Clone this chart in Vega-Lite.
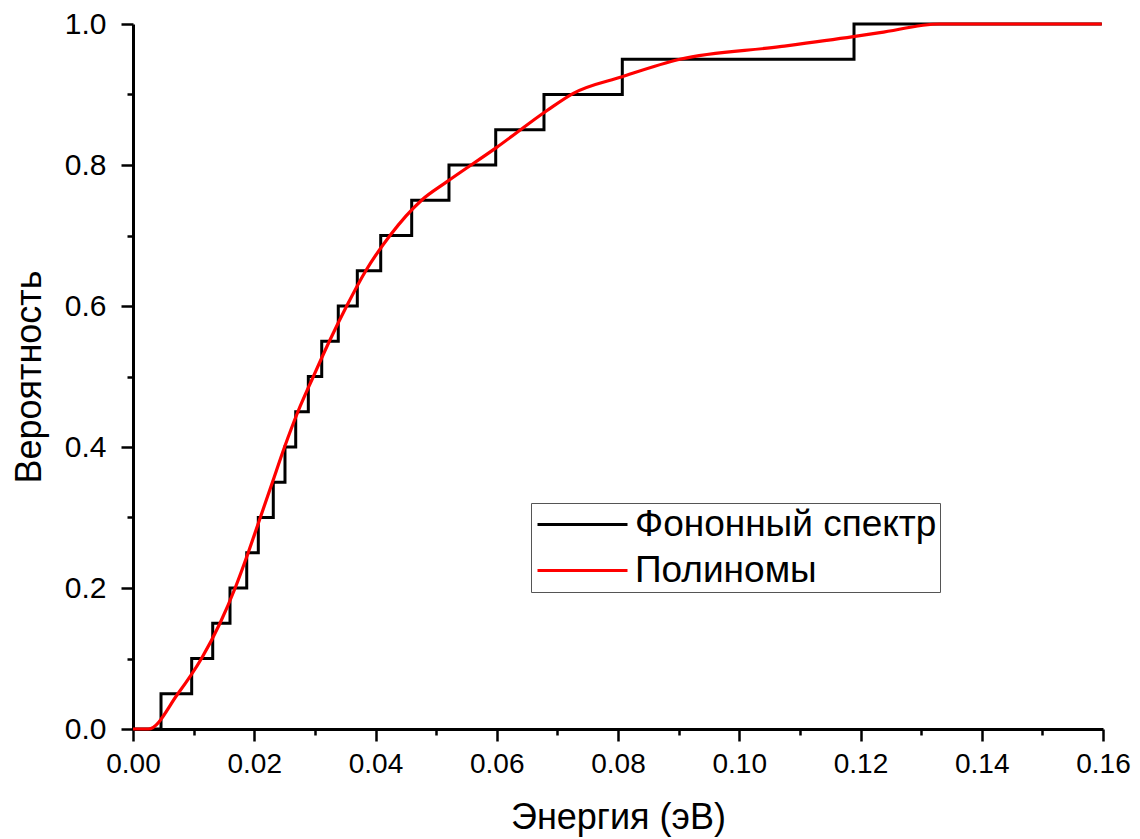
{
  "$schema": "https://vega.github.io/schema/vega-lite/v6.json",
  "width": 970,
  "height": 705,
  "autosize": "none",
  "padding": {"left": 133, "top": 24, "right": 37, "bottom": 110},
  "background": "white",
  "config": {
    "view": {"stroke": null},
    "font": "Liberation Sans"
  },
  "datasets": {
    "steps": [
      {"x": 0, "y": 0, "s": "Фононный спектр"},
      {"x": 0.00462, "y": 0.05, "s": "Фононный спектр"},
      {"x": 0.00968, "y": 0.10, "s": "Фононный спектр"},
      {"x": 0.01315, "y": 0.15, "s": "Фононный спектр"},
      {"x": 0.0160, "y": 0.20, "s": "Фононный спектр"},
      {"x": 0.01876, "y": 0.25, "s": "Фононный спектр"},
      {"x": 0.02067, "y": 0.30, "s": "Фононный спектр"},
      {"x": 0.02314, "y": 0.35, "s": "Фононный спектр"},
      {"x": 0.02507, "y": 0.40, "s": "Фононный спектр"},
      {"x": 0.02684, "y": 0.45, "s": "Фононный спектр"},
      {"x": 0.02892, "y": 0.50, "s": "Фононный спектр"},
      {"x": 0.03113, "y": 0.55, "s": "Фононный спектр"},
      {"x": 0.03386, "y": 0.60, "s": "Фононный спектр"},
      {"x": 0.03700, "y": 0.65, "s": "Фононный спектр"},
      {"x": 0.04086, "y": 0.70, "s": "Фононный спектр"},
      {"x": 0.04597, "y": 0.75, "s": "Фононный спектр"},
      {"x": 0.05212, "y": 0.80, "s": "Фононный спектр"},
      {"x": 0.05983, "y": 0.85, "s": "Фононный спектр"},
      {"x": 0.06779, "y": 0.90, "s": "Фононный спектр"},
      {"x": 0.08071, "y": 0.95, "s": "Фононный спектр"},
      {"x": 0.11893, "y": 1.00, "s": "Фононный спектр"},
      {"x": 0.1598, "y": 1.00, "s": "Фононный спектр"}
    ],
    "poly": [
      {"x": 0, "y": 0, "s": "Полиномы"},
      {"x": 0.00253, "y": 0, "s": "Полиномы"},
      {"x": 0.0074, "y": 0.05, "s": "Полиномы"},
      {"x": 0.0113, "y": 0.10, "s": "Полиномы"},
      {"x": 0.01435, "y": 0.15, "s": "Полиномы"},
      {"x": 0.01685, "y": 0.20, "s": "Полиномы"},
      {"x": 0.0190, "y": 0.25, "s": "Полиномы"},
      {"x": 0.0210, "y": 0.30, "s": "Полиномы"},
      {"x": 0.0230, "y": 0.35, "s": "Полиномы"},
      {"x": 0.0250, "y": 0.40, "s": "Полиномы"},
      {"x": 0.0272, "y": 0.45, "s": "Полиномы"},
      {"x": 0.02975, "y": 0.50, "s": "Полиномы"},
      {"x": 0.03239, "y": 0.55, "s": "Полиномы"},
      {"x": 0.03525, "y": 0.60, "s": "Полиномы"},
      {"x": 0.03840, "y": 0.65, "s": "Полиномы"},
      {"x": 0.04239, "y": 0.70, "s": "Полиномы"},
      {"x": 0.04760, "y": 0.75, "s": "Полиномы"},
      {"x": 0.05174, "y": 0.776, "s": "Полиномы"},
      {"x": 0.05999, "y": 0.8250, "s": "Полиномы"},
      {"x": 0.06824, "y": 0.877, "s": "Полиномы"},
      {"x": 0.07263, "y": 0.9017, "s": "Полиномы"},
      {"x": 0.0807, "y": 0.9253, "s": "Полиномы"},
      {"x": 0.0902, "y": 0.950, "s": "Полиномы"},
      {"x": 0.1067, "y": 0.9678, "s": "Полиномы"},
      {"x": 0.1188, "y": 0.982, "s": "Полиномы"},
      {"x": 0.1232, "y": 0.9877, "s": "Полиномы"},
      {"x": 0.1331, "y": 1.0, "s": "Полиномы"},
      {"x": 0.1598, "y": 1.0, "s": "Полиномы"}
    ]
  },
  "encoding": {
    "x": {
      "field": "x", "type": "quantitative",
      "scale": {"domain": [0, 0.16], "nice": false, "zero": false},
      "axis": {
        "title": "Энергия (эВ)",
        "values": [0, 0.01, 0.02, 0.03, 0.04, 0.05, 0.06, 0.07, 0.08, 0.09, 0.10, 0.11, 0.12, 0.13, 0.14, 0.15, 0.16],
        "labelExpr": "round(datum.value*100) % 2 == 0 ? format(datum.value, '.2f') : ''",
        "labelOverlap": false,
        "labelFlush": false,
        "grid": false,
        "domainColor": "black", "domainWidth": 3,
        "tickColor": "black", "tickWidth": 2.5,
        "tickSize": {"condition": {"test": "round(datum.value*100) % 2 == 0", "value": 12}, "value": 6},
        "labelFontSize": 28, "labelColor": "black", "labelFont": "Liberation Sans",
        "labelPadding": 9,
        "titleFontSize": 36, "titleFontWeight": "normal", "titleColor": "black", "titleFont": "Liberation Sans",
        "titlePadding": 22
      }
    },
    "y": {
      "field": "y", "type": "quantitative",
      "scale": {"domain": [0, 1], "nice": false},
      "axis": {
        "title": "Вероятность",
        "values": [0, 0.1, 0.2, 0.3, 0.4, 0.5, 0.6, 0.7, 0.8, 0.9, 1.0],
        "labelExpr": "round(datum.value*10) % 2 == 0 ? format(datum.value, '.1f') : ''",
        "labelOverlap": false,
        "labelFlush": false,
        "grid": false,
        "domainColor": "black", "domainWidth": 3,
        "tickColor": "black", "tickWidth": 2.5,
        "tickSize": {"condition": {"test": "round(datum.value*10) % 2 == 0", "value": 12}, "value": 6},
        "labelFontSize": 30, "labelColor": "black", "labelFont": "Liberation Sans",
        "labelPadding": 15,
        "titleFontSize": 36, "titleFontWeight": "normal", "titleColor": "black", "titleFont": "Liberation Sans",
        "titlePadding": 16
      }
    },
    "color": {
      "field": "s", "type": "nominal",
      "scale": {"domain": ["Фононный спектр", "Полиномы"], "range": ["black", "red"]},
      "legend": {
        "title": null,
        "orient": "none",
        "legendX": 398,
        "legendY": 479,
        "symbolType": "M-3,0H3",
        "symbolSize": 900,
        "symbolOffset": 30,
        "symbolStrokeWidth": 3,
        "labelFontSize": 37,
        "labelFont": "Liberation Sans",
        "labelColor": "black",
        "labelOffset": 34,
        "rowPadding": 8,
        "padding": 3,
        "strokeColor": "#555555",
        "fillColor": "white",
        "labelLimit": 500
      }
    }
  },
  "layer": [
    {
      "data": {"name": "steps"},
      "mark": {"type": "line", "interpolate": "step-after", "strokeWidth": 3}
    },
    {
      "data": {"name": "poly"},
      "mark": {"type": "line", "interpolate": "monotone", "strokeWidth": 3.2}
    }
  ]
}
